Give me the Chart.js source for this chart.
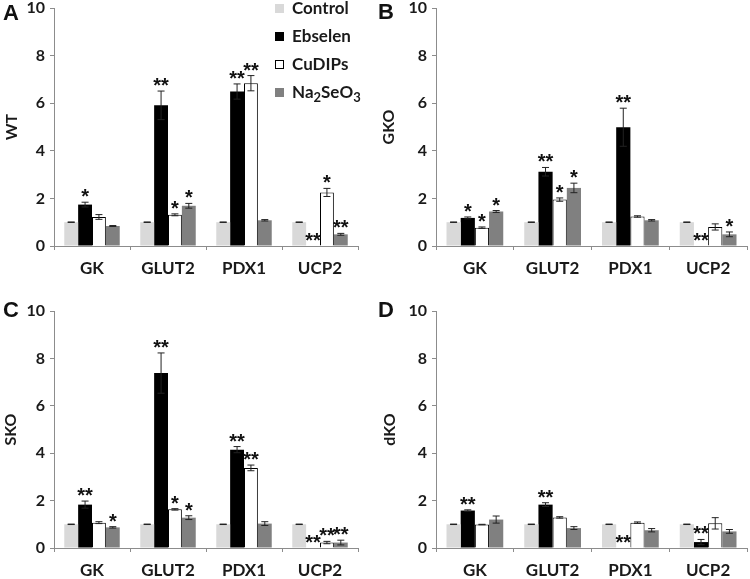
<!DOCTYPE html>
<html lang="en">
<head>
    <meta charset="UTF-8">
    <title>Gene expression - WT, GKO, SKO, dKO</title>
    <script src="https://cdn.jsdelivr.net/npm/chart.js"></script>
    <style>
        body {
            margin: 0;
            background: #fff;
        }
        .fig {
            position: relative;
            width: 750px;
            height: 579px;
            overflow: hidden;
        }
        .panel {
            position: absolute;
        }
        .letter {
            position: absolute;
            font: bold 22px "Liberation Sans", Arial, sans-serif;
            line-height: 22px;
            color: #111;
        }
        .legend {
            position: absolute;
            left: 275px;
            top: -2px;
            font: bold 17px Lato, sans-serif;
            color: #1a1a1a;
        }
        .legend .row {
            position: relative;
            height: 28px;
            line-height: 20px;
            padding-left: 17px;
        }
        .legend .sw {
            position: absolute;
            left: 0;
            top: 6px;
            width: 9px;
            height: 9px;
            box-sizing: border-box;
        }
        .legend sub {
            font-size: 13px;
            line-height: 0;
        }
    </style>
</head>
<body>
    <div class="fig">
        <div class="panel" style="left:0;top:0;"><canvas id="chartA" width="375" height="290"></canvas></div>
        <div class="panel" style="left:375px;top:0;"><canvas id="chartB" width="375" height="290"></canvas></div>
        <div class="panel" style="left:0;top:290px;"><canvas id="chartC" width="375" height="289"></canvas></div>
        <div class="panel" style="left:375px;top:290px;"><canvas id="chartD" width="375" height="289"></canvas></div>

        <div class="letter" style="left:3px;top:2px;">A</div>
        <div class="letter" style="left:378px;top:1px;">B</div>
        <div class="letter" style="left:3px;top:299px;">C</div>
        <div class="letter" style="left:378px;top:299px;">D</div>

        <div class="legend">
            <div class="row"><span class="sw" style="background:#d9d9d9"></span>Control</div>
            <div class="row"><span class="sw" style="background:#000"></span>Ebselen</div>
            <div class="row"><span class="sw" style="background:#fff;border:1px solid #000"></span>CuDIPs</div>
            <div class="row"><span class="sw" style="background:#808080"></span>Na<sub>2</sub>SeO<sub>3</sub></div>
        </div>
    </div>

    <script>
        // categorías y series
        const genes = ['GK', 'GLUT2', 'PDX1', 'UCP2'];
        const seriesNames = ['Control', 'Ebselen', 'CuDIPs', 'Na2SeO3'];
        const yTicks = [0, 2, 4, 6, 8, 10];

        // control siempre 1
        const control = [1, 1, 1, 1];
        const controlErr = [0.01, 0.01, 0.01, 0.01];

        // A - WT
        const wtEbselen = [1.74, 5.91, 6.49, 0.02];
        const wtEbselenErr = [0.10, 0.60, 0.32, 0];
        const wtCudips = [1.22, 1.31, 6.84, 2.25];
        const wtCudipsErr = [0.10, 0.04, 0.32, 0.17];
        const wtNa = [0.84, 1.69, 1.08, 0.49];
        const wtNaErr = [0.02, 0.10, 0.03, 0.04];
        const wtStars = [['', '', '', ''], ['*', '**', '**', '**'], ['', '*', '**', '*'], ['', '*', '', '**']];

        // B - GKO
        const gkoEbselen = [1.18, 3.12, 4.99, 0.02];
        const gkoEbselenErr = [0.04, 0.18, 0.80, 0];
        const gkoCudips = [0.77, 1.95, 1.24, 0.80];
        const gkoCudipsErr = [0.03, 0.07, 0.03, 0.13];
        const gkoNa = [1.45, 2.44, 1.08, 0.49];
        const gkoNaErr = [0.04, 0.20, 0.03, 0.10];
        const gkoStars = [['', '', '', ''], ['*', '**', '**', '**'], ['*', '*', '', ''], ['*', '*', '', '*']];

        // C - SKO
        const skoEbselen = [1.83, 7.38, 4.15, 0.02];
        const skoEbselenErr = [0.15, 0.85, 0.13, 0];
        const skoCudips = [1.07, 1.63, 3.38, 0.23];
        const skoCudipsErr = [0.04, 0.03, 0.12, 0.05];
        const skoNa = [0.87, 1.28, 1.03, 0.23];
        const skoNaErr = [0.03, 0.08, 0.08, 0.10];
        const skoStars = [['', '', '', ''], ['**', '**', '**', '**'], ['', '*', '**', '**'], ['*', '*', '', '**']];

        // D - dKO
        const dkoEbselen = [1.58, 1.83, 0.02, 0.25];
        const dkoEbselenErr = [0.03, 0.08, 0, 0.11];
        const dkoCudips = [0.99, 1.29, 1.07, 1.04];
        const dkoCudipsErr = [0.01, 0.03, 0.03, 0.24];
        const dkoNa = [1.20, 0.84, 0.75, 0.70];
        const dkoNaErr = [0.15, 0.06, 0.07, 0.08];
        const dkoStars = [['', '', '', ''], ['**', '**', '**', '**'], ['', '', '', ''], ['', '', '', '']];

        const fills = ['#d9d9d9', '#000000', '#ffffff', '#808080'];
        const axisGray = '#8c8c8c';
        const textColor = '#1a1a1a';

        // barras de error + asteriscos
        const errorBars = {
            id: 'errorBars',
            afterDatasetsDraw(chart) {
                const ctx = chart.ctx;
                const y = chart.scales.y;
                ctx.save();
                chart.data.datasets.forEach((ds, i) => {
                    const meta = chart.getDatasetMeta(i);
                    meta.data.forEach((bar, j) => {
                        const v = ds.data[j];
                        const e = ds.errors[j];
                        const top = y.getPixelForValue(v + e);
                        if (e > 0) {
                            const bot = y.getPixelForValue(v - e);
                            ctx.strokeStyle = '#222';
                            ctx.lineWidth = 1;
                            ctx.beginPath();
                            ctx.moveTo(bar.x, top);
                            ctx.lineTo(bar.x, bot);
                            ctx.moveTo(bar.x - 3.5, top);
                            ctx.lineTo(bar.x + 3.5, top);
                            ctx.moveTo(bar.x - 3.5, bot);
                            ctx.lineTo(bar.x + 3.5, bot);
                            ctx.stroke();
                        }
                        const s = ds.stars[j];
                        if (s) {
                            ctx.fillStyle = '#111';
                            ctx.font = 'bold 20px "Liberation Sans", Arial, sans-serif';
                            ctx.textAlign = 'center';
                            ctx.textBaseline = 'alphabetic';
                            ctx.fillText(s, bar.x, top + 1);
                        }
                    });
                });
                ctx.restore();
            }
        };

        function makeDatasets(values, errs, stars) {
            return seriesNames.map((name, i) => ({
                label: name,
                data: values[i],
                errors: errs[i],
                stars: stars[i],
                backgroundColor: fills[i],
                borderColor: '#000',
                borderWidth: i === 2 ? 1 : 0,
                categoryPercentage: 0.73,
                barPercentage: 1
            }));
        }

        function makePanel(id, title, values, errs, stars, box) {
            new Chart(document.getElementById(id), {
                type: 'bar',
                data: {
                    labels: genes,
                    datasets: makeDatasets(values, errs, stars)
                },
                options: {
                    responsive: false,
                    animation: false,
                    layout: {
                        padding: { left: 0, top: box.top, right: box.right, bottom: 0 }
                    },
                    plugins: {
                        legend: { display: false },
                        tooltip: { enabled: false }
                    },
                    scales: {
                        x: {
                            grid: {
                                offset: true,
                                drawOnChartArea: false,
                                drawTicks: true,
                                tickLength: 4,
                                color: axisGray
                            },
                            border: { color: axisGray, width: 1 },
                            ticks: {
                                padding: 8,
                                color: textColor,
                                font: { family: 'Lato', weight: 'bold', size: 17 }
                            },
                            afterFit(scale) {
                                scale.height = box.xh;
                                scale.paddingLeft = 0;
                                scale.paddingRight = 0;
                            }
                        },
                        y: {
                            min: 0,
                            max: 10,
                            afterBuildTicks(scale) {
                                scale.ticks = yTicks.map(v => ({ value: v }));
                            },
                            grid: {
                                drawOnChartArea: false,
                                drawTicks: true,
                                tickLength: 4,
                                color: axisGray
                            },
                            border: { color: axisGray, width: 1 },
                            ticks: {
                                padding: 5,
                                color: textColor,
                                font: { family: 'Lato', weight: 'bold', size: 16 }
                            },
                            title: {
                                display: true,
                                text: title,
                                color: textColor,
                                padding: { top: box.titlePad, bottom: 0 },
                                font: { family: 'Lato', weight: 'bold', size: 16 }
                            },
                            afterFit(scale) {
                                scale.width = box.yw;
                                scale.paddingTop = 0;
                                scale.paddingBottom = 0;
                            }
                        }
                    }
                },
                plugins: [errorBars]
            });
        }

        makePanel('chartA', 'WT',
            [control, wtEbselen, wtCudips, wtNa],
            [controlErr, wtEbselenErr, wtCudipsErr, wtNaErr],
            wtStars,
            { top: 8, right: 17, yw: 54, xh: 44, titlePad: 2 });

        makePanel('chartB', 'GKO',
            [control, gkoEbselen, gkoCudips, gkoNa],
            [controlErr, gkoEbselenErr, gkoCudipsErr, gkoNaErr],
            gkoStars,
            { top: 8, right: 3, yw: 61, xh: 44, titlePad: 4 });

        makePanel('chartC', 'SKO',
            [control, skoEbselen, skoCudips, skoNa],
            [controlErr, skoEbselenErr, skoCudipsErr, skoNaErr],
            skoStars,
            { top: 21, right: 17, yw: 54, xh: 31, titlePad: 1 });

        makePanel('chartD', 'dKO',
            [control, dkoEbselen, dkoCudips, dkoNa],
            [controlErr, dkoEbselenErr, dkoCudipsErr, dkoNaErr],
            dkoStars,
            { top: 21, right: 3, yw: 61, xh: 31, titlePad: 5 });
    </script>
</body>
</html>
